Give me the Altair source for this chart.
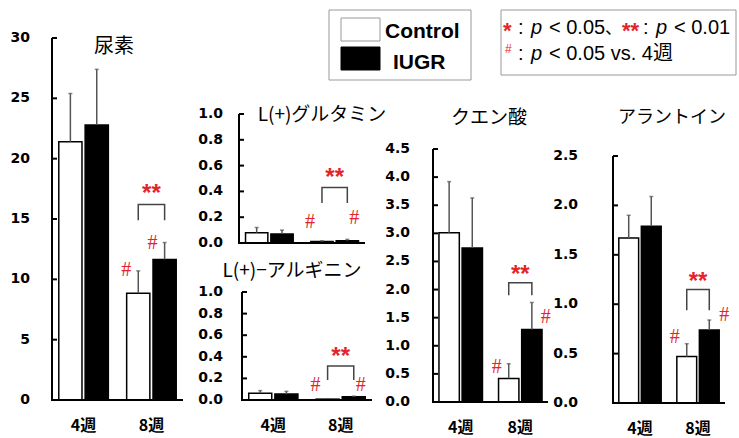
import altair as alt
import pandas as pd

RED = "#e3242b"
W, H = 739, 438

weeks = ["4週", "8週"]
groups = ["Control", "IUGR"]

# 尿素
urea_ctrl = [21.4, 8.85]
urea_ctrl_sd = [4.0, 1.85]
urea_iugr = [22.8, 11.65]
urea_iugr_sd = [4.6, 1.4]
urea_bracket = [14.9, 16.2]
urea_star = 17.5
urea_hash = [10.8, 13.0]
urea_ticks = [0, 5, 10, 15, 20, 25, 30]

# L(+)グルタミン
glu_ctrl = [0.08, 0.012]
glu_ctrl_sd = [0.04, 0.005]
glu_iugr = [0.07, 0.018]
glu_iugr_sd = [0.03, 0.01]
glu_bracket = [0.31, 0.43]
glu_star = 0.54
glu_hash = [0.165, 0.19]
glu_ticks = [0.0, 0.2, 0.4, 0.6, 0.8, 1.0]

# L(+)-アルギニン
arg_ctrl = [0.062, 0.008]
arg_ctrl_sd = [0.025, 0.003]
arg_iugr = [0.055, 0.03]
arg_iugr_sd = [0.025, 0.006]
arg_bracket = [0.185, 0.315]
arg_star = 0.447
arg_hash = [0.14, 0.14]
arg_ticks = [0.0, 0.2, 0.4, 0.6, 0.8, 1.0]

# クエン酸
cit_ctrl = [3.01, 0.42]
cit_ctrl_sd = [0.91, 0.26]
cit_iugr = [2.74, 1.29]
cit_iugr_sd = [0.89, 0.48]
cit_bracket = [1.90, 2.12]
cit_star = 2.35
cit_hash = [0.63, 1.52]
cit_ticks = [0.0, 0.5, 1.0, 1.5, 2.0, 2.5, 3.0, 3.5, 4.0, 4.5]

# アラントイン
all_ctrl = [1.67, 0.47]
all_ctrl_sd = [0.23, 0.13]
all_iugr = [1.79, 0.74]
all_iugr_sd = [0.30, 0.10]
all_bracket = [0.94, 1.15]
all_star = 1.28
all_hash = [0.67, 0.89]
all_ticks = [0.0, 0.5, 1.0, 1.5, 2.0, 2.5]

one = pd.DataFrame({"a": [0]})


def panel(title, ctrl, ctrl_sd, iugr, iugr_sd, bracket, star, hashes, ticks, fmt,
          xr, yr, label_pad, title_xy, title_size, hash_dx, show_weeks=True):
    rows = []
    for i, w in enumerate(weeks):
        rows.append(dict(week=w, group="Control", value=ctrl[i], upper=ctrl[i] + ctrl_sd[i]))
        rows.append(dict(week=w, group="IUGR", value=iugr[i], upper=iugr[i] + iugr_sd[i]))
    df = pd.DataFrame(rows)

    ys = alt.Scale(domain=[ticks[0], ticks[-1]], range=[yr[0], yr[1]], nice=False, zero=True)
    xs = alt.Scale(domain=weeks, range=[xr[0], xr[1]], paddingInner=0.27, paddingOuter=0.1)
    os_ = alt.Scale(domain=groups, paddingInner=0.12, paddingOuter=0)

    def X():
        return alt.X("week:N", scale=xs, axis=None, sort=weeks)

    XO = alt.XOffset("group:N", scale=os_, sort=groups)

    bars = alt.Chart(df).mark_bar(stroke="black", strokeWidth=1.5).encode(
        x=X(), xOffset=XO,
        y=alt.Y("value:Q", scale=ys, axis=None),
        fill=alt.Fill("group:N", scale=alt.Scale(domain=groups, range=["white", "black"]), legend=None),
    )
    err = alt.Chart(df).mark_rule(color="#555555", strokeWidth=1.5).encode(
        x=X(), xOffset=XO,
        y=alt.Y("value:Q", scale=ys, axis=None), y2="upper:Q",
    )
    cap = alt.Chart(df).mark_tick(orient="horizontal", size=4, thickness=1.5, color="#555555").encode(
        x=X(), xOffset=XO, y=alt.Y("upper:Q", scale=ys, axis=None),
    )
    # axes drawn by hand
    tdf = pd.DataFrame({"t": ticks})
    tick_marks = alt.Chart(tdf).mark_rule(color="black", strokeWidth=2).encode(
        y=alt.Y("t:Q", scale=ys, axis=None),
        x=alt.value(xr[0]), x2=alt.value(xr[0] + 5),
    )
    tick_labels = alt.Chart(tdf).mark_text(
        align="right", baseline="middle", font="DejaVu Sans", fontWeight="bold",
        fontSize=14, color="black", dx=-label_pad,
    ).encode(y=alt.Y("t:Q", scale=ys, axis=None), x=alt.value(xr[0]),
             text=alt.Text("t:Q", format=fmt))
    yline = alt.Chart(one).mark_rule(color="black", strokeWidth=2).encode(
        x=alt.value(xr[0]),
        y=alt.Y(datum=ticks[-1], scale=ys, axis=None), y2=alt.Y2(datum=ticks[0]),
    )
    xline = alt.Chart(one).mark_rule(color="black", strokeWidth=2).encode(
        y=alt.Y(datum=ticks[0], scale=ys, axis=None),
        x=alt.value(xr[0] - 1), x2=alt.value(xr[1]),
    )

    bdf = pd.DataFrame({"week": ["8週"] * 4,
                        "group": ["Control", "Control", "IUGR", "IUGR"],
                        "y": [bracket[0], bracket[1], bracket[1], bracket[0]],
                        "o": [0, 1, 2, 3]})
    br = alt.Chart(bdf).mark_line(color="#444444", strokeWidth=1.5).encode(
        x=X(), xOffset=XO, y=alt.Y("y:Q", scale=ys, axis=None), order="o:Q",
    )
    sdf = pd.DataFrame({"week": ["8週"], "y": [star], "t": ["**"]})
    stars = alt.Chart(sdf).mark_text(color=RED, fontSize=24, fontWeight="bold",
                                     font="Liberation Sans", baseline="middle", dy=5).encode(
        x=X(), y=alt.Y("y:Q", scale=ys, axis=None), text="t:N",
    )
    hdf = pd.DataFrame({"week": ["8週", "8週"], "group": groups, "y": hashes, "t": ["#", "#"]})
    h1 = alt.Chart(hdf).mark_text(color=RED, fontSize=20, font="Liberation Serif",
                                  baseline="middle", dx=-12).encode(
        x=X(), xOffset=XO, y=alt.Y("y:Q", scale=ys, axis=None), text="t:N",
    ).transform_filter(alt.datum.group == "Control")
    h2 = alt.Chart(hdf).mark_text(color=RED, fontSize=20, font="Liberation Serif",
                                  baseline="middle", dx=hash_dx).encode(
        x=X(), xOffset=XO, y=alt.Y("y:Q", scale=ys, axis=None), text="t:N",
    ).transform_filter(alt.datum.group == "IUGR")
    tt = alt.Chart(pd.DataFrame({"t": [title]})).mark_text(
        font="Noto Sans CJK JP", fontSize=title_size, color="black", baseline="middle", align="center"
    ).encode(x=alt.value(title_xy[0]), y=alt.value(title_xy[1]), text="t:N")
    layers = [bars, err, cap, tick_marks, tick_labels, yline, xline, br, stars, h1, h2, tt]
    if show_weeks:
        wdf = pd.DataFrame({"week": weeks})
        week_labels = alt.Chart(wdf).mark_text(
            baseline="middle", font="Noto Sans CJK JP", fontWeight="bold",
            fontSize=16, color="black",
        ).encode(x=X(), y=alt.value(yr[0] + 26), text="week:N")
        layers.append(week_labels)
    return alt.layer(*layers)


p1 = panel("尿素", urea_ctrl, urea_ctrl_sd, urea_iugr, urea_iugr_sd, urea_bracket, urea_star,
           urea_hash, urea_ticks, "d", (52, 183), (400, 38), 22, (114, 47), 20, -12)
p2 = panel("L(+)グルタミン", glu_ctrl, glu_ctrl_sd, glu_iugr, glu_iugr_sd, glu_bracket, glu_star,
           glu_hash, glu_ticks, ".1f", (239, 365), (243, 114), 16, (322, 115), 19, 7,
           show_weeks=False)
p3 = panel("L(+)−アルギニン", arg_ctrl, arg_ctrl_sd, arg_iugr, arg_iugr_sd, arg_bracket, arg_star,
           arg_hash, arg_ticks, ".1f", (242, 372), (400, 292), 19, (292, 271), 19, 7)
p4 = panel("クエン酸", cit_ctrl, cit_ctrl_sd, cit_iugr, cit_iugr_sd, cit_bracket, cit_star,
           cit_hash, cit_ticks, ".1f", (433, 548), (402, 149), 23, (489, 118), 19, 14)
p5 = panel("アラントイン", all_ctrl, all_ctrl_sd, all_iugr, all_iugr_sd, all_bracket, all_star,
           all_hash, all_ticks, ".1f", (613, 725), (403, 156), 35, (672, 118), 18, 15)


def box(x1, x2, y1, y2, fill, stroke):
    return alt.Chart(one).mark_rect(fill=fill, stroke=stroke, strokeWidth=1).encode(
        x=alt.value(x1), x2=alt.value(x2), y=alt.value(y1), y2=alt.value(y2))


def label(txt, x, y, size, color="black", weight="normal", style="normal",
          font="Liberation Sans, Noto Sans CJK JP"):
    return alt.Chart(pd.DataFrame({"t": [txt]})).mark_text(
        align="left", baseline="alphabetic", fontSize=size, color=color, fontWeight=weight,
        fontStyle=style, font=font).encode(x=alt.value(x), y=alt.value(y), text="t:N")


legend = [
    box(329, 471, 10, 80, "white", "#999999"),
    box(341, 380, 18, 41, "white", "#999999"),
    box(341, 380, 47, 70, "black", "black"),
    label("Control", 385, 38, 21, weight="bold"),
    label("IUGR", 393, 69, 21, weight="bold"),
    box(501, 736, 10, 75, "white", "#999999"),
    label("*", 503, 38, 22, color=RED, weight="bold"),
    label(":", 518, 34, 20),
    label("p", 531, 34, 20, style="italic"),
    label("< 0.05", 549, 34, 20),
    label("、", 605, 34, 17, font="Noto Sans CJK JP"),
    label("**", 622, 38, 22, color=RED, weight="bold"),
    label(":", 643, 34, 20),
    label("p", 656, 34, 20, style="italic"),
    label("< 0.01", 674, 34, 20),
    label("#", 505, 53, 12, color=RED),
    label(":", 518, 60, 20),
    label("p", 531, 60, 20, style="italic"),
    label("< 0.05 vs. 4週", 549, 60, 20),
]

chart = alt.layer(p1, p2, p3, p4, p5, *legend).resolve_scale(
    x="independent", y="independent", xOffset="independent", fill="independent"
).properties(
    width=W, height=H, padding=0, autosize=alt.AutoSizeParams(type="none"), background="white"
).configure_view(stroke=None)

chart.save("out.html", embed_options={"renderer": "svg", "actions": False})
